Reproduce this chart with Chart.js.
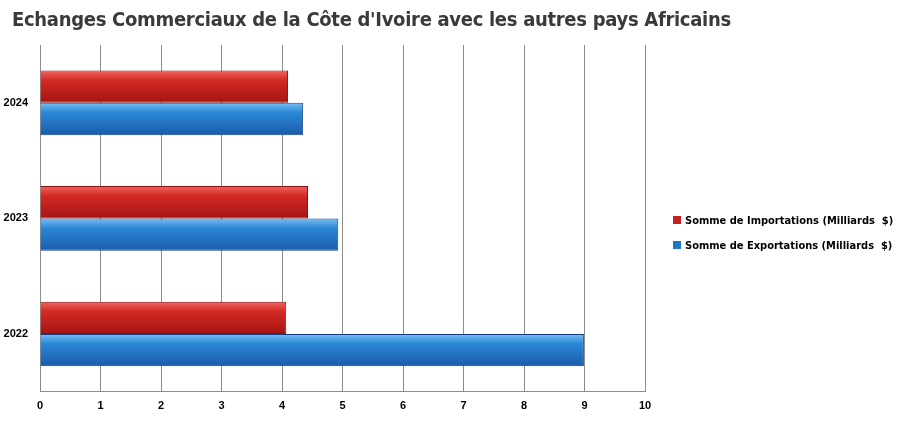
<!DOCTYPE html>
<html><head><meta charset="utf-8">
<script src="https://cdn.jsdelivr.net/npm/chart.js@4"></script>
<style>
body{margin:0;background:#fff;font-family:"Liberation Sans",Arial,sans-serif;}
#wrap{position:relative;width:897px;height:427px;}
#title{position:absolute;left:12px;top:7px;font-size:20px;font-weight:bold;color:#3a3a3a;font-family:"DejaVu Sans Condensed","Liberation Sans",sans-serif;letter-spacing:-0.3px}
#legend{position:absolute;left:673px;top:214px;font-size:11px;font-weight:bold;color:#000;white-space:nowrap;font-family:"DejaVu Sans Condensed","Liberation Sans",sans-serif}
#legend div{margin-bottom:12px}
.mk{display:inline-block;width:8px;height:8px;margin-right:4px}
</style></head><body>
<div id="wrap">
<canvas id="c" width="897" height="427"></canvas>
<div id="title">Echanges Commerciaux de la Côte d'Ivoire avec les autres pays Africains</div>
<div id="legend">
<div><span class="mk" style="background:#c8201e"></span>Somme de Importations (Milliards&nbsp; $)</div>
<div><span class="mk" style="background:#1e78c8"></span>Somme de Exportations (Milliards&nbsp; $)</div>
</div>
</div>
<script>
const years = ['2024','2023','2022'];
const imports = [4.1, 4.43, 4.07];
const exports_ = [4.35, 4.93, 8.99];
const catPct = 0.56;

function grad(top, mid, bot, side){
  return ctx => {
    const ys = ctx.chart.scales.y;
    if(!ys || ctx.dataIndex===undefined || ys.bottom===undefined) return mid;
    const cy = ys.getPixelForValue(ctx.dataIndex);
    const barH = (ys.bottom-ys.top)/years.length*catPct/2;
    const t = side<0 ? cy-barH : cy;
    const g = ctx.chart.ctx.createLinearGradient(0, t, 0, t+barH);
    g.addColorStop(0, top); g.addColorStop(0.3, mid); g.addColorStop(1, bot);
    return g;
  };
}

new Chart(document.getElementById('c'), {
  type:'bar',
  data:{labels:years, datasets:[
    {label:'Somme de Importations (Milliards  $)', data:imports,
     backgroundColor:grad('#f06560','#d42a25','#a51412',-1), borderColor:'#8a1010', borderWidth:1,
     categoryPercentage:catPct, barPercentage:1},
    {label:'Somme de Exportations (Milliards  $)', data:exports_,
     backgroundColor:grad('#78bff5','#2a88d6','#1a5cab',1), borderColor:'#163f80', borderWidth:1,
     categoryPercentage:catPct, barPercentage:1}
  ]},
  options:{
    indexAxis:'y', responsive:false, animation:false,
    layout:{padding:{top:45, right:252, bottom:6, left:0}},
    plugins:{legend:{display:false}, tooltip:{enabled:false}},
    scales:{
      x:{min:0, max:10, ticks:{stepSize:1, color:'#000', font:{size:11, weight:'bold'}, padding:8},
         grid:{color:'#8c8c8c', drawTicks:false}, border:{color:'#8c8c8c'}},
      y:{ticks:{color:'#000', font:{size:11, weight:'bold'}, padding:4},
         grid:{display:false}, border:{color:'#8c8c8c'},
         afterFit:s=>{s.width=40;}}
    }
  }
});
</script>
</body></html>
